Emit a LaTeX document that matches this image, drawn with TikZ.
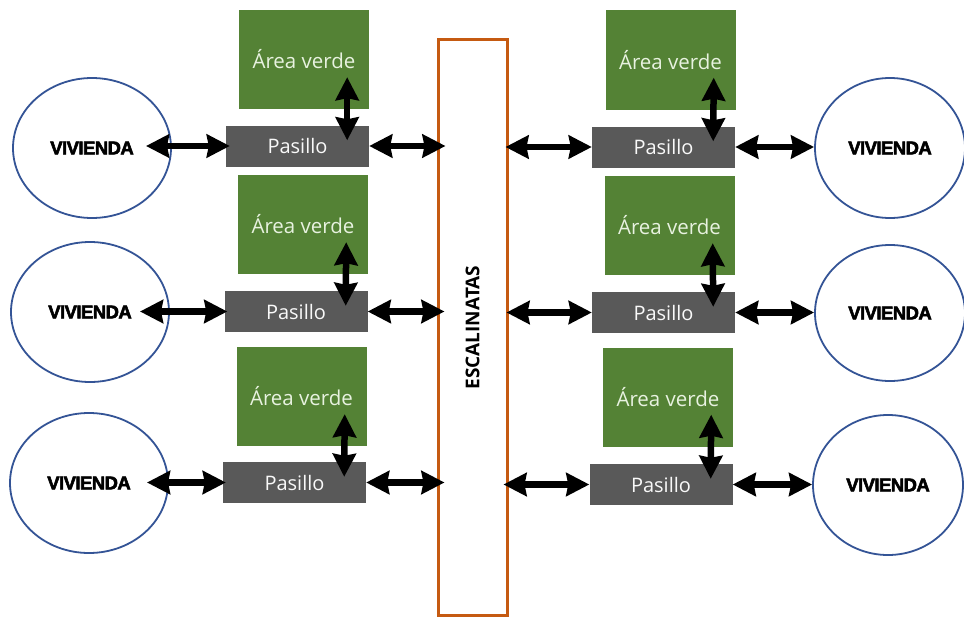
\documentclass[tikz,border=0pt]{standalone}
\usepackage{fontspec}
\setmainfont{Open Sans}
\newfontfamily\vivfont[LetterSpace=-3, BoldFeatures={FakeBold=3}]{Liberation Sans}
\usetikzlibrary{arrows.meta,shapes.geometric}
\definecolor{verde}{RGB}{84,130,53}
\definecolor{gris}{RGB}{89,89,89}
\definecolor{naranja}{RGB}{197,90,17}
\definecolor{azul}{RGB}{52,84,150}
\definecolor{txtverde}{RGB}{232,242,224}
\tikzset{
  areabox/.style={rectangle, fill=verde, minimum width=130pt, minimum height=99pt, inner sep=0pt,
    text=txtverde, font=\fontsize{20.5}{23}\selectfont},
  pasbox/.style={rectangle, fill=gris, minimum width=143pt, minimum height=41pt, inner sep=0pt,
    text=white!95!gray, font=\fontsize{20}{23}\selectfont},
  vivbox/.style={ellipse, draw=azul, line width=1.8pt, fill=white, minimum width=158pt, minimum height=140pt,
    inner sep=0pt, font=\vivfont\bfseries\fontsize{18.5}{20}\selectfont},
  escbox/.style={rectangle, draw=naranja, line width=3pt, fill=white, minimum width=69pt, minimum height=575pt, inner sep=0pt},
  dbl/.style={line width=6.5pt, {Stealth[length=23pt,width=23pt,inset=2pt]}-{Stealth[length=23pt,width=23pt,inset=2pt]}}
}
\begin{document}
\begin{tikzpicture}[x=1pt,y=-1pt]
\useasboundingbox[fill=white] (0,0) rectangle (964,618);
% escalinatas
\node[escbox] (esc) at (472.5,327.5) {};
\node[rotate=90, font=\bfseries\fontsize{19}{20}\selectfont] (esct) at (esc.center) {ESCALINATAS};
% left side
\node[areabox] (av1) at (304,59.5) {Área verde};
\node[pasbox] (p1) at (297.5,146) {Pasillo};
\node[vivbox] (v1) at (92,148) {VIVIENDA};
\node[areabox] (av2) at (303,224.5) {Área verde};
\node[pasbox] (p2) at (296,311.5) {Pasillo};
\node[vivbox] (v2) at (90,312) {VIVIENDA};
\node[areabox] (av3) at (301.5,396.5) {Área verde};
\node[pasbox] (p3) at (294.5,482.5) {Pasillo};
\node[vivbox] (v3) at (89,483) {VIVIENDA};
% right side
\node[areabox] (av4) at (670.5,60) {Área verde};
\node[pasbox] (p4) at (663.5,147) {Pasillo};
\node[vivbox, minimum width=150pt] (v4) at (890,148) {VIVIENDA};
\node[areabox] (av5) at (669.5,225.5) {Área verde};
\node[pasbox] (p5) at (663.5,312.5) {Pasillo};
\node[vivbox, minimum width=150pt, minimum height=136pt] (v5) at (890,313) {VIVIENDA};
\node[areabox] (av6) at (668,397) {Área verde};
\node[pasbox] (p6) at (661,484.5) {Pasillo};
\node[vivbox, minimum width=150pt] (v6) at (888,485) {VIVIENDA};
% left arrows
\draw[dbl, shorten <=54pt, shorten >=-4pt] (p1.west -| v1.center) -- (p1.west);
\draw[dbl, shorten <=50pt, shorten >=-3pt] (p2.west -| v2.center) -- (p2.west);
\draw[dbl, shorten <=58pt, shorten >=-3pt] (p3.west -| v3.center) -- (p3.west);
\draw[dbl, shorten >=-9pt] (p1.east) -- (p1.east -| esc.west);
\draw[dbl, shorten >=-8pt] (p2.east) -- (p2.east -| esc.west);
\draw[dbl, shorten >=-8pt] (p3.east) -- (p3.east -| esc.west);
% right arrows
\draw[dbl, shorten <=-3pt] (p4.west -| esc.east) -- (p4.west);
\draw[dbl, shorten <=-2pt] (p5.west -| esc.east) -- (p5.west);
\draw[dbl, shorten <=-5pt] (p6.west -| esc.east) -- (p6.west);
\draw[dbl] (p4.east) -- (p4.east -| v4.west);
\draw[dbl] (p5.east) -- (p5.east -| v5.west);
\draw[dbl] (p6.east) -- (p6.east -| v6.west);
% vertical arrows
\draw[dbl] ([xshift=-22pt,yshift=32pt]av1.south east) -- ([xshift=-22pt,yshift=-15pt]p1.north east);
\draw[dbl] ([xshift=-22pt,yshift=32pt]av2.south east) -- ([xshift=-22pt,yshift=-15pt]p2.north east);
\draw[dbl] ([xshift=-22pt,yshift=32pt]av3.south east) -- ([xshift=-22pt,yshift=-15pt]p3.north east);
\draw[dbl] ([xshift=-22pt,yshift=32pt]av4.south east) -- ([xshift=-22pt,yshift=-15pt]p4.north east);
\draw[dbl] ([xshift=-22pt,yshift=32pt]av5.south east) -- ([xshift=-22pt,yshift=-15pt]p5.north east);
\draw[dbl] ([xshift=-22pt,yshift=32pt]av6.south east) -- ([xshift=-22pt,yshift=-15pt]p6.north east);
\end{tikzpicture}
\end{document}
